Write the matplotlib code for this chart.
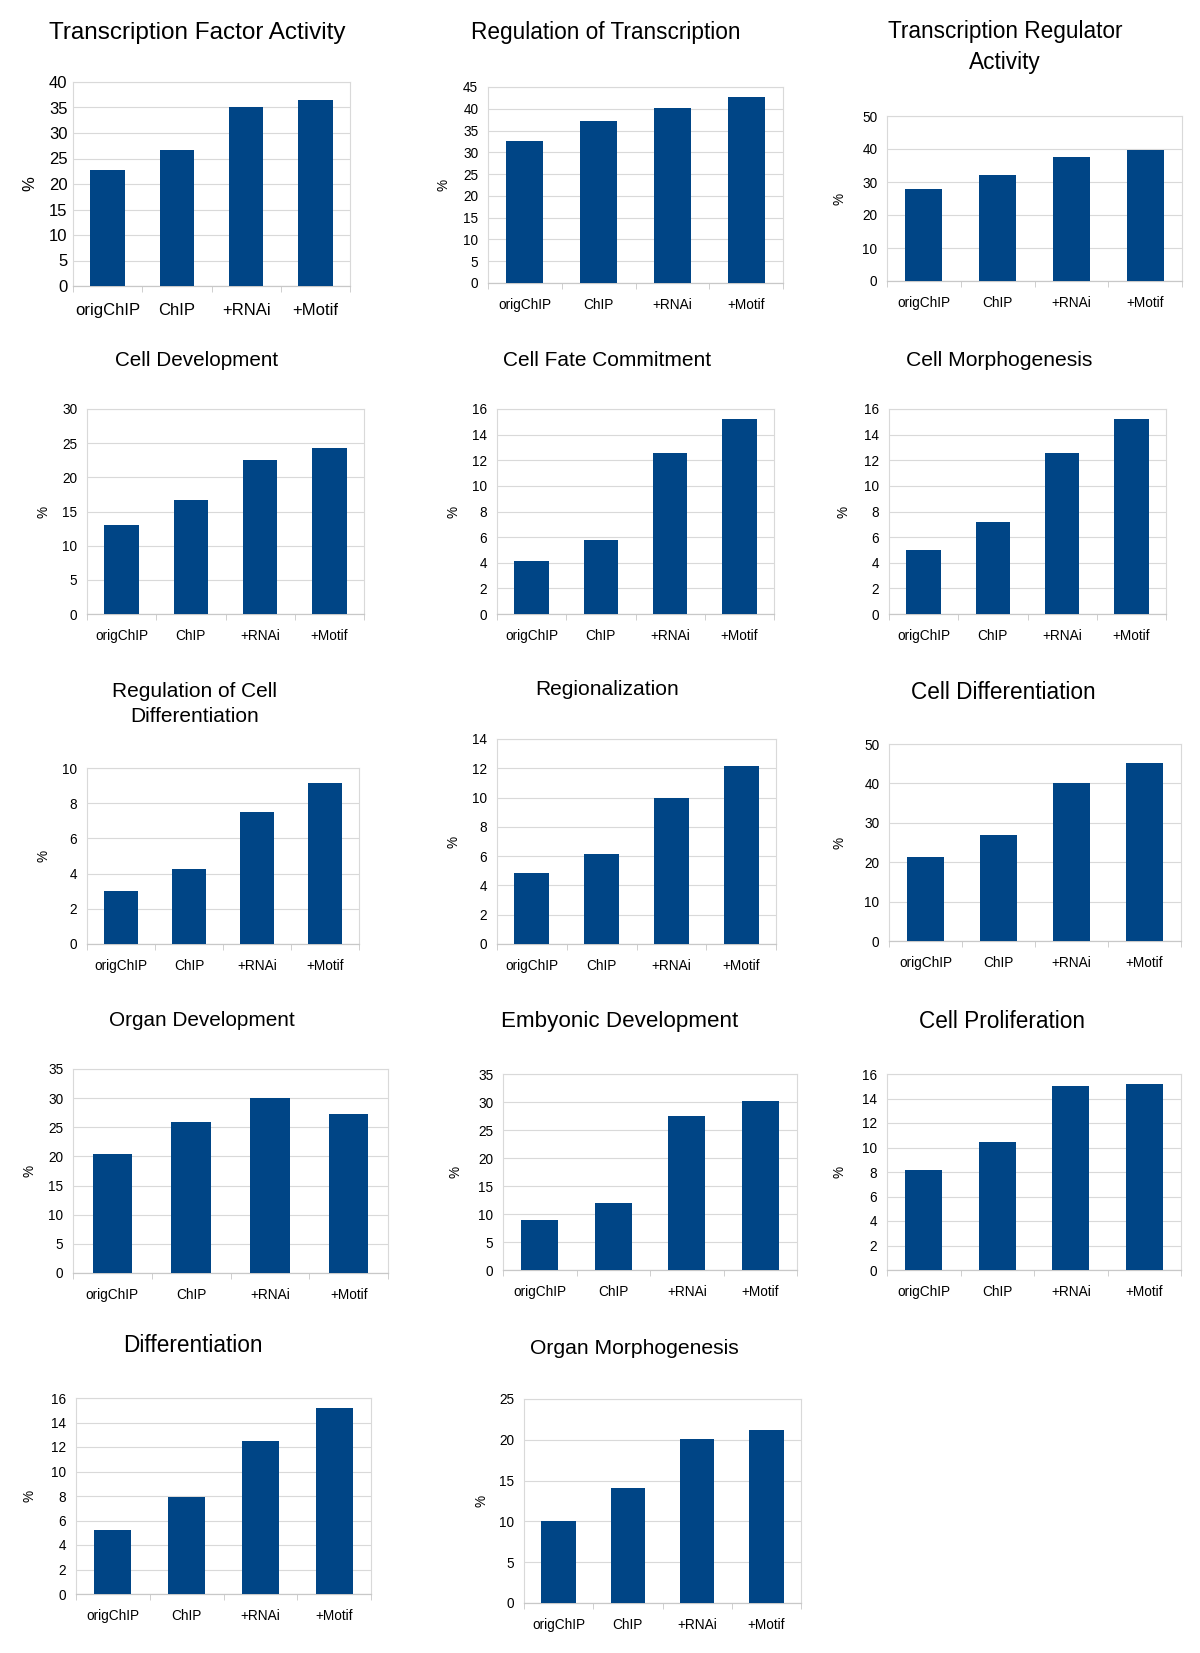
import matplotlib
matplotlib.use("Agg")
import matplotlib.pyplot as plt
from matplotlib.ticker import MultipleLocator, FixedLocator
import numpy as np

plt.rcParams['font.family'] = ['Liberation Sans', 'DejaVu Sans']

categories = ["origChIP", "ChIP", "+RNAi", "+Motif"]

titles = [
    "Transcription Factor Activity",
    "Regulation of Transcription",
    "Transcription Regulator\nActivity",
    "Cell Development",
    "Cell Fate Commitment",
    "Cell Morphogenesis",
    "Regulation of Cell\nDifferentiation",
    "Regionalization",
    "Cell Differentiation",
    "Organ Development",
    "Embyonic Development",
    "Cell Proliferation",
    "Differentiation",
    "Organ Morphogenesis",
]

transcription_factor_activity = [22.7, 26.6, 35.0, 36.5]
regulation_of_transcription = [32.6, 37.1, 40.1, 42.6]
transcription_regulator_activity = [27.9, 32.1, 37.6, 39.6]
cell_development = [13.0, 16.7, 22.6, 24.3]
cell_fate_commitment = [4.1, 5.8, 12.55, 15.2]
cell_morphogenesis = [5.0, 7.15, 12.55, 15.2]
regulation_of_cell_differentiation = [3.0, 4.25, 7.5, 9.15]
regionalization = [4.83, 6.16, 10.0, 12.13]
cell_differentiation = [21.3, 27.0, 40.0, 45.3]
organ_development = [20.5, 25.9, 30.1, 27.2]
embryonic_development = [9.0, 11.95, 27.55, 30.25]
cell_proliferation = [8.2, 10.45, 15.0, 15.2]
differentiation = [5.25, 7.9, 12.5, 15.2]
organ_morphogenesis = [10.1, 14.05, 20.1, 21.15]

series = [
    transcription_factor_activity, regulation_of_transcription,
    transcription_regulator_activity, cell_development, cell_fate_commitment,
    cell_morphogenesis, regulation_of_cell_differentiation, regionalization,
    cell_differentiation, organ_development, embryonic_development,
    cell_proliferation, differentiation, organ_morphogenesis,
]

y_max = [40, 45, 50, 30, 16, 16, 10, 14, 50, 35, 35, 16, 16, 25]
y_step = [5, 5, 10, 5, 2, 2, 2, 2, 10, 5, 5, 2, 2, 5]

# layout in pixels: (left, top, right, bottom) of plot area, title center (x, y), ylabel x
W, H = 1200, 1653
layout = [
    ((73, 82, 350, 286), (197, 33), 30),
    ((488, 87, 783, 283), (606, 33), 443),
    ((887, 116, 1182, 281), (1005, 47), 840),
    ((87, 409, 364, 614), (197, 360), 43),
    ((497, 409, 774, 614), (607, 360), 453),
    ((889, 409, 1166, 614), (999, 360), 843),
    ((87, 768, 359, 944), (195, 704), 43),
    ((497, 739, 776, 944), (607, 690), 453),
    ((889, 744, 1181, 941), (1003, 692), 840),
    ((73, 1069, 388, 1273), (202, 1020), 30),
    ((503, 1074, 797, 1270), (620, 1022), 456),
    ((887, 1074, 1181, 1270), (1002, 1022), 840),
    ((76, 1398, 371, 1594), (193, 1346), 30),
    ((524, 1399, 801, 1603), (634, 1349), 481),
]
title_size = [17.5, 16.3, 16.3, 14.9, 15.0, 15.2, 15.05, 15.1, 16.3,
              14.95, 16.1, 16.3, 16.3, 15.2]

bar_color = "#004586"
grid_color = "#d9d9d9"
spine_color = "#c8c8c8"

fig = plt.figure(figsize=(W / 100, H / 100), dpi=100)

for i in range(len(titles)):
    (l, t, r, b), (tx, ty), ylx = layout[i]
    ax = fig.add_axes([l / W, 1 - b / H, (r - l) / W, (b - t) / H])
    x = np.arange(len(categories))
    ax.bar(x, series[i], width=0.5, color=bar_color, zorder=3)
    ax.set_xlim(-0.5, len(categories) - 0.5)
    ax.set_ylim(0, y_max[i])
    ax.yaxis.set_major_locator(MultipleLocator(y_step[i]))
    ax.grid(axis='y', color=grid_color, linewidth=0.8, zorder=0)
    ax.set_axisbelow(True)
    ax.set_xticks(x)
    big = (i == 0)
    fs_tick = 12 if big else 9.8
    ax.set_xticklabels(categories, fontsize=fs_tick)
    ax.tick_params(axis='x', length=0, pad=12 if big else 11)
    ax.xaxis.set_minor_locator(FixedLocator(np.arange(-0.5, len(categories), 1.0)))
    ax.tick_params(axis='x', which='minor', length=4, color=spine_color, direction='out')
    ax.tick_params(axis='y', length=0, labelsize=fs_tick, pad=4 if big else 7)
    for s in ['top', 'right', 'left']:
        ax.spines[s].set_color(grid_color)
        ax.spines[s].set_linewidth(0.8)
    ax.spines['bottom'].set_color(spine_color)
    ax.spines['bottom'].set_linewidth(0.9)
    fig.text(tx / W, 1 - ty / H, titles[i], ha='center', va='center',
             fontsize=title_size[i], linespacing=1.4)
    fig.text(ylx / W, 1 - ((t + b) / 2) / H, "%", rotation=90, ha='center',
             va='center', fontsize=fs_tick)

fig.savefig("out.png", dpi=100, facecolor="white")
